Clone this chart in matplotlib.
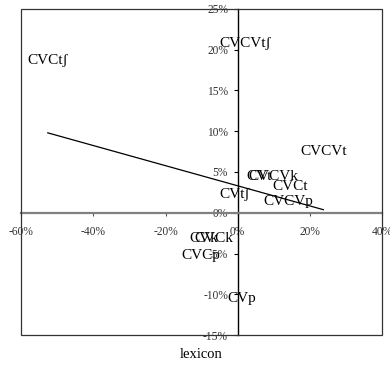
import numpy as np
import matplotlib
matplotlib.use("Agg")
import matplotlib.pyplot as plt
from matplotlib.patches import Rectangle
from matplotlib.ticker import FuncFormatter

plt.rcParams['font.family'] = ['Liberation Serif', 'DejaVu Serif']

# word shapes and their coordinates (percent)
labels = ["CVCtʃ", "CVCVtʃ", "CVCVt", "CVCt", "CVCVp", "CVtʃ",
          "CVt", "CVCVk", "CVk", "CVCk", "CVCp", "CVp"]
x_vals = [-52.6, 2.1, 23.7, 14.4, 14.0, -1.0, 5.8, 10.0, -9.4, -6.7, -10.2, 1.0]
y_vals = [18.7, 20.8, 7.5, 3.2, 1.4, 2.2, 4.4, 4.4, -3.1, -3.1, -5.2, -10.5]

x_ticks = [-60, -40, -20, 0, 20, 40]
y_ticks = [-15, -10, -5, 0, 5, 10, 15, 20, 25]

fig = plt.figure(figsize=(3.9, 3.69), dpi=100)
ax = fig.add_axes([0.054, 0.092, 0.926, 0.884])
ax.set_xlim(-60, 40)
ax.set_ylim(-15, 25)

# axes crossing at zero
ax.spines['left'].set_position('zero')
ax.spines['bottom'].set_position('zero')
ax.spines['left'].set_color('black')
ax.spines['left'].set_linewidth(1.0)
ax.spines['bottom'].set_color('#808080')
ax.spines['bottom'].set_linewidth(1.6)
ax.spines['top'].set_visible(False)
ax.spines['right'].set_visible(False)
ax.add_patch(Rectangle((0, 0), 1, 1, transform=ax.transAxes, fill=False,
                       edgecolor='#333333', linewidth=0.9, clip_on=False, zorder=3))

pct = FuncFormatter(lambda v, p: f"{v:.0f}%")
ax.set_xticks(x_ticks)
ax.set_yticks(y_ticks)
ax.xaxis.set_major_formatter(pct)
ax.yaxis.set_major_formatter(pct)
ax.tick_params(axis='x', direction='out', length=2.5, width=0.8, color='#555555',
               labelsize=8.3, labelcolor='#333333', pad=7)
ax.tick_params(axis='y', direction='out', length=3, width=0.8,
               labelsize=8.3, labelcolor='#333333', pad=4)

# labels centred on the points
for lab, x, y in zip(labels, x_vals, y_vals):
    ax.text(x, y, lab, ha='center', va='center', fontsize=11, color='black')

# linear trendline
x = np.array(x_vals)
y = np.array(y_vals)
b1, b0 = np.polyfit(x, y, 1)
xs = np.array([x.min(), x.max()])
ax.plot(xs, b0 + b1 * xs, color='black', linewidth=0.9)

fig.text(0.516, 0.038, "lexicon", ha='center', va='center', fontsize=10.5)

fig.savefig("out.png", dpi=100)
